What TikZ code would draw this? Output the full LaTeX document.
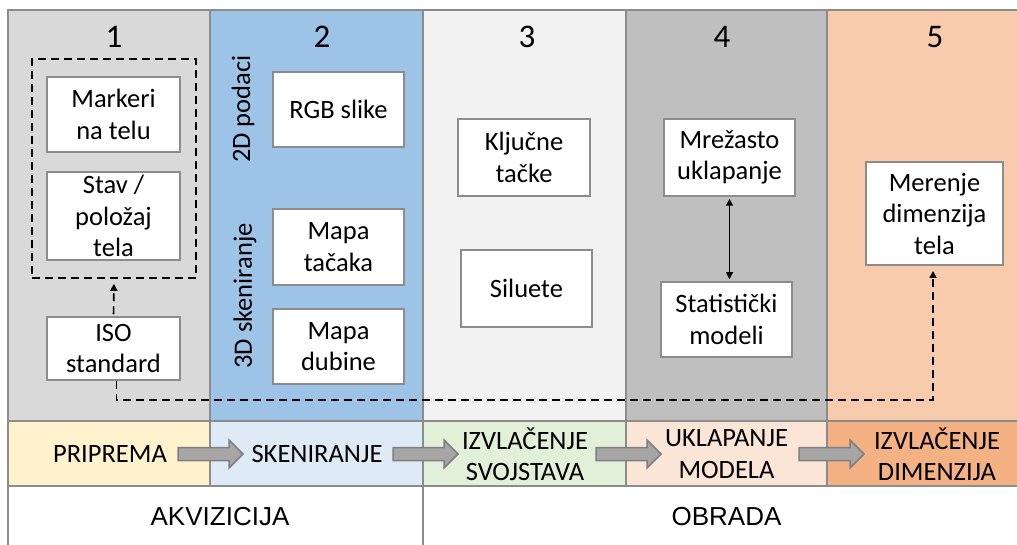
\documentclass[tikz,border=0pt]{standalone}
\usepackage{tikz}
\usepackage{xcolor}
\usepackage{fontspec}
\setmainfont{Carlito}
\newfontfamily\arialfont{Liberation Sans}
\usetikzlibrary{arrows.meta}

\definecolor{frame}{HTML}{8C8C8C}
\definecolor{colA}{HTML}{D9D9D9}
\definecolor{colB}{HTML}{9DC3E6}
\definecolor{colC}{HTML}{F2F2F2}
\definecolor{colD}{HTML}{BFBFBF}
\definecolor{colE}{HTML}{F8CBAD}
\definecolor{barA}{HTML}{FFF2CC}
\definecolor{barB}{HTML}{DEEBF7}
\definecolor{barC}{HTML}{E2F0D9}
\definecolor{barD}{HTML}{FBE5D6}
\definecolor{barE}{HTML}{F4B183}
\definecolor{blkfill}{HTML}{A6A6A6}
\definecolor{blkline}{HTML}{7F7F7F}

\begin{document}
\begin{tikzpicture}[x=1pt,y=-1pt,font=\fontsize{26.5}{31.5}\selectfont,
    >={Triangle[length=7pt,width=7pt]}]
    \tikzstyle{B}=[rectangle,draw=frame,line width=1.5pt,fill=white,inner sep=0pt,align=center]
    \tikzstyle{D}=[dashed,dash pattern=on 8pt off 5pt,line width=1.6pt]
    \tikzstyle{H}=[font=\fontsize{33}{38}\selectfont]
    \tikzstyle{S}=[align=center,inner sep=0pt]

    \clip (0,0) rectangle (1017,545);
    \fill [white] (0,0) rectangle (1017,545);

    % columns
    \fill [colA] (8,10) rectangle (210,421);
    \fill [colB] (210,10) rectangle (423,421);
    \fill [colC] (423,10) rectangle (626,421);
    \fill [colD] (626,10) rectangle (827,421);
    \fill [colE] (827,10) rectangle (1040,421);

    \fill [barA] (8,421) rectangle (210,486);
    \fill [barB] (210,421) rectangle (423,486);
    \fill [barC] (423,421) rectangle (626,486);
    \fill [barD] (626,421) rectangle (827,486);
    \fill [barE] (827,421) rectangle (1040,486);

    % frame
    \draw [frame,line width=1.8pt] (8,560) -- (8,10) -- (1040,10);
    \draw [frame,line width=1.8pt] (8,421) -- (1040,421);
    \draw [frame,line width=1.8pt] (8,486) -- (1040,486);
    \foreach \x in {210,423,626,827}
        \draw [frame,line width=1.8pt] (\x,10) -- (\x,486);
    \draw [frame,line width=1.8pt] (423,486) -- (423,560);

    % headers
    \node [H] (h1) at (114,37) {1};
    \node [H] (h2) at (322,37) {2};
    \node [H] (h3) at (527,37) {3};
    \node [H] (h4) at (722,37) {4};
    \node [H] (h5) at (935,37) {5};

    % column 1
    \node [rectangle,draw,D,minimum width=164pt,minimum height=219pt] (grp) at (114,168.5) {};
    \node [B,minimum width=133pt,minimum height=75pt] (marker) at (113.5,114.5) {Markeri\\na telu};
    \node [B,minimum width=133pt,minimum height=88pt] (stav) at (113.5,216) {Stav /\\položaj\\tela};
    \node [B,minimum width=133pt,minimum height=63pt] (iso) at (113.5,348.5) {ISO\\standard};

    % column 2
    \node [rotate=90] (podaci) at (243,109) {2D podaci};
    \node [rotate=90] (sken) at (245,296) {3D skeniranje};
    \node [B,minimum width=131pt,minimum height=75pt] (rgb) at (338.5,109.5) {RGB slike};
    \node [B,minimum width=131pt,minimum height=76pt] (tacke) at (338.5,247) {Mapa\\tačaka};
    \node [B,minimum width=131pt,minimum height=75pt] (dubina) at (338.5,346.5) {Mapa\\dubine};

    % column 3
    \node [B,minimum width=132pt,minimum height=77pt] (kljucne) at (524,157.5) {Ključne\\tačke};
    \node [B,minimum width=131pt,minimum height=77pt] (siluete) at (526.5,288.5) {Siluete};

    % column 4
    \node [B,minimum width=131pt,minimum height=77pt] (mreza) at (729.5,157.5) {Mrežasto\\uklapanje};
    \node [B,minimum width=131pt,minimum height=75pt] (stat) at (726.5,319.5) {Statistički\\modeli};

    % column 5
    \node [B,minimum width=137pt,minimum height=103pt] (meren) at (934.5,213.5) {Merenje\\dimenzija\\tela};

    % links
    \draw [<->,line width=1pt,shorten <=2pt,shorten >=2pt] (mreza.south) -- (mreza.south |- stat.north);
    \draw [->,D,shorten <=2pt,shorten >=5pt] (iso.north) -- (grp.south);
    \draw [->,D,shorten >=6pt] ([xshift=3pt]iso.south) |- (933,400) -- (933,265);

    % process bar
    \node [S] (prip) at (110,454) {PRIPREMA};
    \node [S] (skenr) at (317,454) {SKENIRANJE};
    \node [S] (svoj) at (525,454) {IZVLAČENJE\\SVOJSTAVA};
    \node [S] (ukl) at (726.5,454) {UKLAPANJE\\MODELA};
    \node [S] (dim) at (937,454) {IZVLAČENJE\\DIMENZIJA};

    \foreach \x in {178,393,596,799}
        \draw [fill=blkfill,draw=blkline,line width=1.5pt]
            (\x,447.5) -- ++(51,0) -- ++(0,-7.5) -- ++(14,14) -- ++(-14,14)
            -- ++(0,-7.5) -- ++(-51,0) -- cycle;

    % phases
    \node [font=\arialfont\fontsize{26}{31}\selectfont] (akv) at (220,517) {AKVIZICIJA};
    \node [font=\arialfont\fontsize{26}{31}\selectfont] (obr) at (726.5,517) {OBRADA};
\end{tikzpicture}
\end{document}
